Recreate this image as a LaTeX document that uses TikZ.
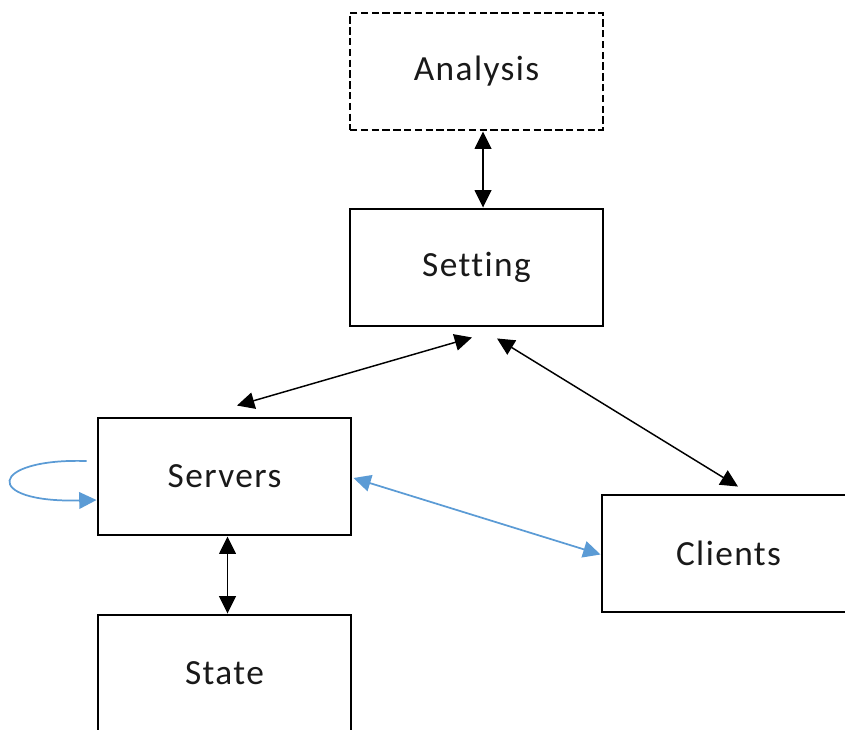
\documentclass[tikz,border=0pt]{standalone}
\usepackage{fontspec}
\setmainfont{Carlito}[LetterSpace=4,Ligatures=NoCommon]
\usetikzlibrary{arrows.meta}

\definecolor{linkblue}{HTML}{5B9BD5}

\begin{document}
\begin{tikzpicture}[
  x=0.75pt,y=-0.75pt,
  font=\fontsize{26.5}{31}\selectfont,
  box/.style={draw,line width=2.2pt,minimum width=189.75pt,minimum height=87.75pt,
              inner sep=0pt,text=black!90},
  plan/.style={box,dashed,dash pattern=on 5.5pt off 2.6pt},
  link/.style={{Triangle[length=13pt,width=12.5pt]}-{Triangle[length=13pt,width=12.5pt]},
               line width=1.1pt},
  bluelink/.style={link,draw=linkblue,line width=1.3pt},
  selfarc/.style={-{Triangle[length=13pt,width=12.5pt]},draw=linkblue,
                  line width=1.3pt}]

\useasboundingbox (0,0) rectangle (845,729);
\clip (0,0) rectangle (845,729);

\node[plan] (analysis) at (476.5,71.5) {Analysis};
\node[box] (setting) at (476.5,267.5) {Setting};
\node[box] (servers) at (224.5,476.5) {Servers};
\node[box] (clients) at (728.5,553.5) {Clients};
\node[box] (state) at (224.5,673.5) {State};

\draw[link] ([shift={(6.5,0)}]analysis.south) -- ([shift={(6.5,0)}]setting.north);
\draw[link] ([shift={(-4.5,10)}]setting.south) -- ([shift={(12.5,-11)}]servers.north);
\draw[link] ([shift={(20.5,11)}]setting.south) -- ([shift={(9.5,-7)}]clients.north);
\draw[bluelink] ([shift={(1,1.5)}]servers.east) -- ([shift={(0,1)}]clients.west);
\draw[link] ([shift={(3,0)}]servers.south) -- ([shift={(3,0)}]state.north);
% the self loop leaves just left of Servers and comes back into its west side
\draw[selfarc] ([shift={(-10,-15.5)}]servers.west)
  .. controls +(-98,-3) and +(-115,3) .. ([shift={(0,23.5)}]servers.west);
\end{tikzpicture}
\end{document}
